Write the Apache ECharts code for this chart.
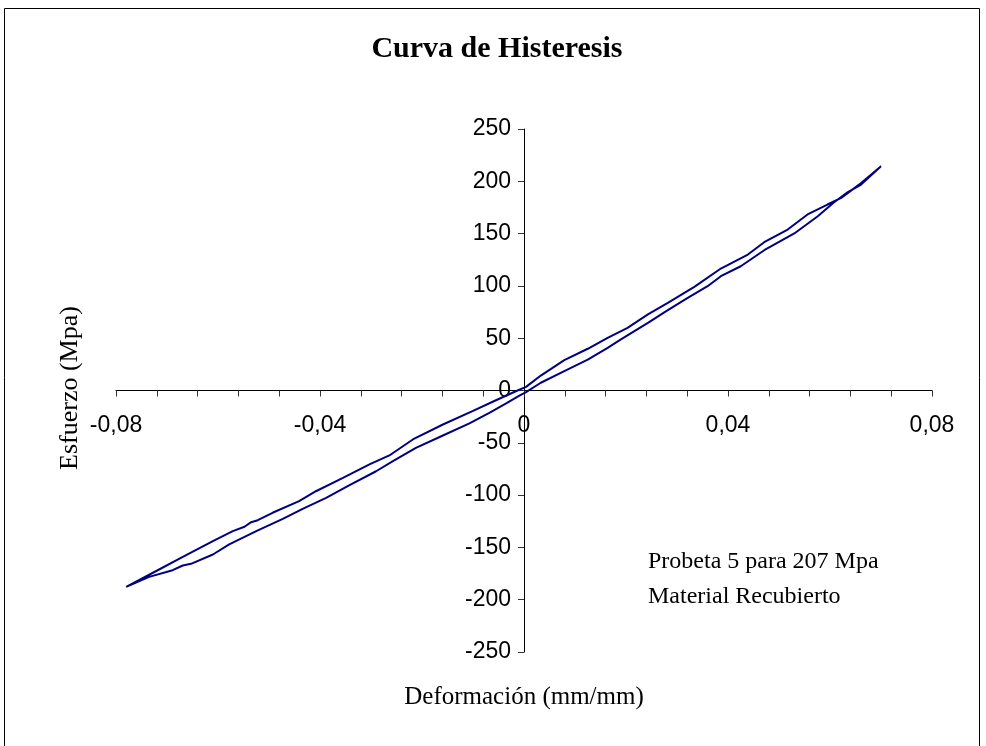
<!DOCTYPE html>
<html>
<head>
<meta charset="utf-8">
<script src="https://cdn.jsdelivr.net/npm/echarts@6/dist/echarts.min.js"></script>
<style>
  html, body { margin: 0; padding: 0; background: #fff; }
  #chart { width: 986px; height: 746px; }
</style>
</head>
<body>
<div id="chart"></div>
<script>
// rama inferior (de abajo-izquierda hacia arriba-derecha)
const lowerX = [-0.0780, -0.0735, -0.0689, -0.0669, -0.0653, -0.0610, -0.0578, -0.0525, -0.0473, -0.0434,
  -0.0388, -0.0343, -0.0290, -0.0257, -0.0212, -0.0159, -0.0107, -0.0068, -0.0035, -0.0009,
  0.0004, 0.0033, 0.0079, 0.0125, 0.0164, 0.0190, 0.0243, 0.0282, 0.0321, 0.0360,
  0.0386, 0.0425, 0.0471, 0.0530, 0.0576, 0.0608, 0.0635, 0.0661, 0.0700];
const lowerY = [-187.7, -178.2, -171.8, -167.3, -165.7, -156.8, -147.2, -134.5, -122.7, -113.1,
  -102.6, -90.8, -77.2, -67.6, -54.8, -43.0, -31.5, -21.3, -12.4, -4.8,
  -1.6, 7.4, 18.5, 29.6, 40.8, 48.8, 64.7, 76.8, 88.6, 99.7,
  109.3, 118.8, 134.1, 150.1, 166.6, 180.0, 189.6, 196.9, 214.4];

// rama superior (de regreso)
const upperX = [0.0700, 0.0661, 0.0622, 0.0595, 0.0556, 0.0517, 0.0471, 0.0439, 0.0386, 0.0334,
  0.0282, 0.0243, 0.0203, 0.0164, 0.0125, 0.0079, 0.0033, 0.0004, -0.0016, -0.0055,
  -0.0101, -0.0159, -0.0218, -0.0264, -0.0303, -0.0355, -0.0408, -0.0441, -0.0493, -0.0522,
  -0.0535, -0.0548, -0.0571, -0.0610, -0.0669, -0.0722, -0.0780];
const upperY = [214.4, 198.3, 184.2, 177.8, 168.3, 153.9, 141.8, 130.0, 116.6, 99.1,
  83.8, 72.7, 59.9, 50.4, 39.9, 29.0, 14.3, 3.5, -0.7, -9.3,
  -19.8, -32.5, -46.8, -62.1, -70.7, -83.5, -96.3, -105.8, -116.9, -124.0,
  -125.9, -130.3, -134.5, -144.1, -159.0, -172.8, -187.7];

const xTicks = [-0.08, -0.04, 0, 0.04, 0.08];
const yTicks = [-250, -200, -150, -100, -50, 0, 50, 100, 150, 200, 250];

const loop = [];
lowerX.forEach((x, i) => loop.push([x, lowerY[i]]));
upperX.forEach((x, i) => loop.push([x, upperY[i]]));

const myChart = echarts.init(document.getElementById('chart'));

const serif = '"Liberation Serif", "DejaVu Serif", serif';
const sans = '"Liberation Sans", Arial, sans-serif';

// grid en pixeles; los ejes se mueven al cero con offset
const gridLeft = 116, gridRight = 54, gridTop = 129, gridBottom = 94;
const plotW = 986 - gridLeft - gridRight;
const plotH = 746 - gridTop - gridBottom;

const option = {
  animation: false,
  backgroundColor: '#fff',
  grid: { left: gridLeft, right: gridRight, top: gridTop, bottom: gridBottom },
  xAxis: {
    type: 'value',
    position: 'bottom',
    offset: -plotH / 2,
    min: xTicks[0],
    max: xTicks[xTicks.length - 1],
    interval: 0.04,
    axisLine: { onZero: false, lineStyle: { color: '#000', width: 1 } },
    axisTick: { show: true, length: 6, lineStyle: { color: '#333' } },
    minorTick: { show: true, splitNumber: 5, length: 6, lineStyle: { color: '#333' } },
    splitLine: { show: false },
    axisLabel: {
      margin: 24,
      fontFamily: sans,
      fontSize: 23,
      color: '#000',
      formatter: v => v === 0 ? '0' : v.toFixed(2).replace('.', ',')
    }
  },
  yAxis: {
    type: 'value',
    position: 'left',
    offset: -plotW / 2,
    min: yTicks[0],
    max: yTicks[yTicks.length - 1],
    interval: 50,
    axisLine: { onZero: false, lineStyle: { color: '#000', width: 1 } },
    axisTick: { show: true, length: 6, lineStyle: { color: '#333' } },
    splitLine: { show: false },
    axisLabel: {
      margin: 13,
      fontFamily: sans,
      fontSize: 23,
      color: '#000'
    }
  },
  series: [
    {
      type: 'line',
      data: loop,
      showSymbol: false,
      smooth: false,
      lineStyle: { color: '#000080', width: 2 }
    }
  ],
  graphic: [
    {
      type: 'rect',
      silent: true,
      shape: { x: 4.5, y: 8.5, width: 975, height: 760 },
      style: { fill: 'none', stroke: '#000', lineWidth: 1 }
    },
    {
      type: 'text', x: 497, y: 49,
      style: { text: 'Curva de Histeresis', font: 'bold 30px ' + serif, fill: '#000', align: 'center', verticalAlign: 'middle' }
    },
    {
      type: 'text', x: 70, y: 388, rotation: Math.PI / 2,
      style: { text: 'Esfuerzo (Mpa)', font: '26px ' + serif, fill: '#000', align: 'center', verticalAlign: 'middle' }
    },
    {
      type: 'text', x: 524, y: 697,
      style: { text: 'Deformación (mm/mm)', font: '25px ' + serif, fill: '#000', align: 'center', verticalAlign: 'middle' }
    },
    {
      type: 'text', x: 648, y: 562,
      style: { text: 'Probeta 5 para 207 Mpa', font: '24px ' + serif, fill: '#000', verticalAlign: 'middle' }
    },
    {
      type: 'text', x: 648, y: 597,
      style: { text: 'Material Recubierto', font: '24px ' + serif, fill: '#000', verticalAlign: 'middle' }
    }
  ]
};

myChart.setOption(option);
</script>
</body>
</html>
